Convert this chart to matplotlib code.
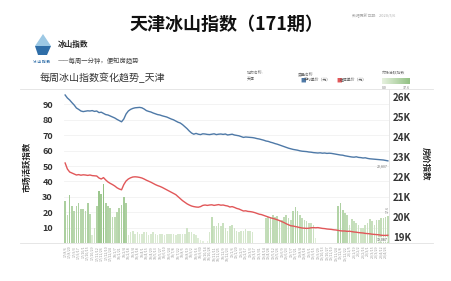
import datetime as dt

import numpy as np
import matplotlib

matplotlib.use("Agg")
import matplotlib.pyplot as plt
from matplotlib.colors import LinearSegmentedColormap, Normalize
from matplotlib.lines import Line2D
from matplotlib.patches import Polygon

plt.rcParams["font.family"] = ["Noto Sans CJK SC", "DejaVu Sans"]

# market activity index (bars, left axis)
activity = [
    27, 18, 31, 24, 21, 24, 26, 22, 22, 21, 26, 19, 5, 10, 24, 34, 32, 38, 26, 24,
    23, 17, 17, 20, 23, 25, 30, 26,
    5, 7, 8, 6, 7, 6, 6, 7, 7, 5, 6, 7, 6, 5, 6, 6, 5, 6, 6, 6,
    6, 5, 6, 6, 6, 6, 10, 7, 7, 6, 5, 3,
    2, 1, 0, 1,
    7, 17, 11, 11, 13, 11, 13, 10, 8, 11, 12, 10, 8, 7, 8, 8, 9, 8, 8, 7,
    0, 0, 0, 0, 0,
    16, 17, 17, 18, 17, 17.5, 15, 15, 17, 18, 16, 15, 20.5, 23.5, 21, 18, 16, 15,
    14, 13, 13, 12, 3,
    0, 0, 0, 0, 0, 0, 0, 0, 0,
    24, 26, 21.5, 19.5, 18.5, 12, 15.5, 14.5, 13, 12, 10, 10, 12, 13, 15.5, 14.5,
    12, 15, 15, 16.5, 16, 16.6, 17.6,
]

# average price, thousand yuan (blue, right axis)
avg_price = [
    26.10, 25.95, 25.85, 25.72, 25.60, 25.45, 25.38, 25.30, 25.27, 25.29,
    25.31, 25.30, 25.32, 25.28, 25.30, 25.22, 25.24, 25.18, 25.12, 25.10,
    25.05, 25.00, 24.95, 24.88, 24.82, 24.76, 24.90, 25.15, 25.30, 25.38,
    25.43, 25.46, 25.47, 25.48, 25.46, 25.40, 25.32, 25.28, 25.25, 25.20,
    25.16, 25.12, 25.10, 25.06, 25.03, 25.00, 24.95, 24.90, 24.86, 24.80,
    24.74, 24.70, 24.62, 24.52, 24.42, 24.30, 24.20, 24.14, 24.18, 24.14,
    24.12, 24.16, 24.15, 24.13, 24.12, 24.14, 24.16, 24.12, 24.14, 24.15,
    24.13, 24.15, 24.10, 24.12, 24.14, 24.10, 24.08, 24.06, 24.02, 23.98,
    24.00, 23.99, 23.98, 23.97, 23.95, 23.92, 23.90, 23.87, 23.84, 23.80,
    23.78, 23.74, 23.71, 23.67, 23.64, 23.60, 23.56, 23.52, 23.48, 23.44,
    23.41, 23.38, 23.36, 23.34, 23.31, 23.29, 23.28, 23.27, 23.25, 23.24,
    23.22, 23.21, 23.20, 23.21, 23.19, 23.20, 23.18, 23.19, 23.18, 23.16,
    23.14, 23.12, 23.10, 23.09, 23.06, 23.04, 23.02, 23.00, 22.99, 23.01,
    22.98, 22.97, 22.95, 22.96, 22.93, 22.91, 22.90, 22.89, 22.88, 22.87,
    22.86, 22.85, 22.83, 22.807,
]

# listing price, thousand yuan (red, right axis)
list_price = [
    22.70, 22.40, 22.25, 22.20, 22.15, 22.10, 22.12, 22.09, 22.11, 22.10,
    22.08, 22.10, 22.07, 22.06, 22.05, 21.95, 21.90, 21.97, 21.85, 21.75,
    21.68, 21.62, 21.55, 21.46, 21.40, 21.36, 21.62, 21.80, 21.90, 21.96,
    22.00, 22.01, 22.00, 21.98, 21.95, 21.90, 21.84, 21.79, 21.74, 21.68,
    21.62, 21.57, 21.53, 21.48, 21.42, 21.36, 21.30, 21.24, 21.18, 21.12,
    21.02, 20.92, 20.82, 20.74, 20.66, 20.60, 20.55, 20.52, 20.50, 20.49,
    20.52, 20.58, 20.60, 20.58, 20.60, 20.61, 20.58, 20.60, 20.62, 20.59,
    20.60, 20.57, 20.55, 20.50, 20.52, 20.48, 20.43, 20.40, 20.35, 20.30,
    20.31, 20.28, 20.27, 20.25, 20.22, 20.18, 20.14, 20.12, 20.08, 20.04,
    20.00, 19.96, 19.93, 19.90, 19.86, 19.82, 19.77, 19.72, 19.66, 19.61,
    19.56, 19.55, 19.52, 19.50, 19.47, 19.45, 19.44, 19.43, 19.44, 19.46,
    19.47, 19.46, 19.47, 19.45, 19.43, 19.42, 19.40, 19.39, 19.38, 19.36,
    19.35, 19.33, 19.31, 19.30, 19.30, 19.28, 19.29, 19.27, 19.25, 19.24,
    19.22, 19.21, 19.20, 19.18, 19.17, 19.16, 19.14, 19.13, 19.12, 19.11,
    19.09, 19.08, 19.08, 19.087,
]

first_week = dt.date(2017, 8, 6)
weeks = [first_week + dt.timedelta(weeks=i) for i in range(len(activity))]
week_labels = [f"{d.year % 100}/{d.month}/{d.day}" for d in weeks]

left_ticks = [10, 20, 30, 40, 50, 60, 70, 80, 90]
right_ticks = [19, 20, 21, 22, 23, 24, 25, 26]

W, H = 451, 281


def fx(px):
    return px / W


def fy(py):
    return 1 - py / H


fig = plt.figure(figsize=(W / 100, H / 100), dpi=100)
fig.patch.set_facecolor("white")

# header
fig.text(fx(226), fy(24), "天津冰山指数（171期）", ha="center", va="center",
         fontsize=13, fontweight="bold", color="#111")
fig.text(fx(352), fy(16), "数据更新日期:   2020/5/6", ha="left", va="center",
         fontsize=2.8, color="#aaa")

# logo
fig.add_artist(Polygon([[fx(43), fy(34)], [fx(35), fy(46)], [fx(51), fy(46)]],
                       closed=True, transform=fig.transFigure, color="#9cc8e4", lw=0))
fig.add_artist(Polygon([[fx(35), fy(46)], [fx(51), fy(46)], [fx(47), fy(55)], [fx(38), fy(55)]],
                       closed=True, transform=fig.transFigure, color="#2f6ea8", lw=0))
fig.text(fx(42), fy(62), "冰 山 指 数", ha="center", va="center", fontsize=2.6,
         color="#2f6ea8", fontweight="bold")
fig.text(fx(58), fy(45), "冰山指数", ha="left", va="center", fontsize=5.5,
         fontweight="bold", color="#222")
fig.text(fx(58), fy(61), "——每周一分钟，便知房趋势", ha="left", va="center",
         fontsize=4.6, color="#444")

fig.text(fx(40), fy(78), "每周冰山指数变化趋势_天津", ha="left", va="center",
         fontsize=7.2, color="#333")

# legend area
fig.text(fx(247), fy(73), "城市名称:", fontsize=2.8, color="#777", va="center")
fig.text(fx(247), fy(78), "天津", fontsize=2.8, color="#555", va="center")
fig.text(fx(298), fy(75), "度量名称", fontsize=2.8, color="#777", va="center")
fig.text(fx(300), fy(80), "■", fontsize=4, color="#4e79a7", va="center")
fig.text(fx(304), fy(80), "平均单价（元）", fontsize=2.8, color="#555", va="center")
fig.text(fx(336), fy(80), "■", fontsize=4, color="#e15759", va="center")
fig.text(fx(340), fy(80), "挂牌单价（元）", fontsize=2.8, color="#555", va="center")
fig.text(fx(382), fy(73), "市场活跃指数", fontsize=2.8, color="#777", va="center")

cmap = LinearSegmentedColormap.from_list("act", ["#e6f1df", "#93c184"])
norm = Normalize(0, max(activity))

cax = fig.add_axes([fx(382), fy(84), fx(410) - fx(382), fy(78) - fy(84)])
cax.imshow(np.linspace(0, 1, 100)[None, :], aspect="auto", cmap=cmap)
cax.axis("off")
fig.text(fx(382), fy(87.5), "0.0", fontsize=2.6, color="#777", va="center")
fig.text(fx(410), fy(87.5), "37.6", fontsize=2.6, color="#777", va="center", ha="right")

# frame lines
for yy in (89, 243):
    fig.add_artist(Line2D([fx(20), fx(433)], [fy(yy), fy(yy)], color="#e2e2e2", lw=0.6))
fig.add_artist(Line2D([fx(389), fx(389)], [fy(89), fy(243)], color="#e2e2e2", lw=0.6))

# main chart
ax = fig.add_axes([fx(64), fy(243), fx(389) - fx(64), fy(89) - fy(243)])
x = np.arange(len(activity))
ax.bar(x, activity, width=0.72, color=cmap(norm(np.array(activity))), linewidth=0)
ax.set_xlim(-0.5, len(activity) - 0.5)
ax.set_ylim(0, 100)
ax.set_yticks(left_ticks)
ax.set_xticks(x[::2])
ax.set_xticklabels(week_labels[::2], rotation=90, fontsize=2.6, color="#999")
ax.tick_params(axis="x", length=0, pad=2)
ax.tick_params(axis="y", length=0, pad=8, labelsize=6.5, labelcolor="#333")
for t in ax.get_yticklabels():
    t.set_fontweight("bold")
ax.yaxis.grid(True, color="#f1f1f1", lw=0.6)
ax.set_axisbelow(True)
for s in ax.spines.values():
    s.set_visible(False)
ax.text(x[-1], activity[-1] + 2, "17.6", rotation=90, fontsize=2.6,
        ha="center", va="bottom", color="#777")

ax2 = ax.twinx()
ax2.plot(x, avg_price, color="#4e79a7", lw=1.0)
ax2.plot(x, list_price, color="#e15759", lw=1.0)
ax2.set_ylim(18.7, 26.4)
ax2.set_yticks(right_ticks)
ax2.set_yticklabels([f"{v}K" for v in right_ticks])
ax2.tick_params(axis="y", length=0, pad=3, labelsize=7, labelcolor="#333")
for t in ax2.get_yticklabels():
    t.set_fontweight("bold")
for s in ax2.spines.values():
    s.set_visible(False)
ax2.annotate(f"{avg_price[-1] * 1000:,.0f}", (x[-1], avg_price[-1]), xytext=(0, -4),
             textcoords="offset points", ha="right", va="center", fontsize=2.6, color="#777")
ax2.annotate(f"{list_price[-1] * 1000:,.0f}", (x[-1], list_price[-1]), xytext=(0, -3),
             textcoords="offset points", ha="right", va="center", fontsize=2.6, color="#555",
             bbox=dict(boxstyle="square,pad=0.1", fc="white", ec="none", alpha=0.7))

fig.text(fx(27), fy(167), "市场活跃指数", rotation=90, ha="center", va="center",
         fontsize=6, fontweight="bold", color="#222")
fig.text(fx(425), fy(164), "房价指数", rotation=270, ha="center", va="center",
         fontsize=6, fontweight="bold", color="#222")

fig.savefig("out.png", dpi=100, facecolor="white")
